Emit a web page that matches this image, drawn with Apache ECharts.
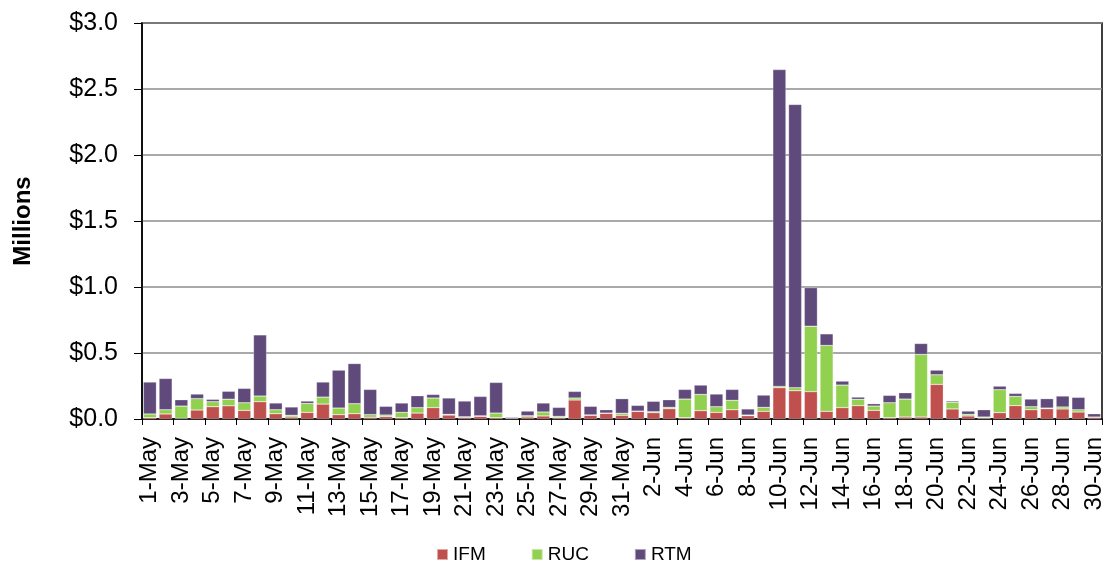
<!DOCTYPE html>
<html><head><meta charset="utf-8">
<script src="https://cdn.jsdelivr.net/npm/echarts@6/dist/echarts.min.js"></script>
<style>html,body{margin:0;padding:0;background:#fff}#c{width:1111px;height:561px}</style>
</head><body><div id="c"></div>
<script>
const categories = ["1-May","2-May","3-May","4-May","5-May","6-May","7-May","8-May","9-May","10-May","11-May","12-May","13-May","14-May","15-May","16-May","17-May","18-May","19-May","20-May","21-May","22-May","23-May","24-May","25-May","26-May","27-May","28-May","29-May","30-May","31-May","1-Jun","2-Jun","3-Jun","4-Jun","5-Jun","6-Jun","7-Jun","8-Jun","9-Jun","10-Jun","11-Jun","12-Jun","13-Jun","14-Jun","15-Jun","16-Jun","17-Jun","18-Jun","19-Jun","20-Jun","21-Jun","22-Jun","23-Jun","24-Jun","25-Jun","26-Jun","27-Jun","28-Jun","29-Jun","30-Jun"];
const ifm = [0.010,0.038,0.005,0.068,0.093,0.100,0.065,0.131,0.040,0.015,0.050,0.113,0.033,0.040,0.013,0.018,0.010,0.045,0.086,0.030,0.012,0.020,0.010,0.006,0.015,0.023,0.010,0.144,0.028,0.043,0.028,0.058,0.048,0.078,0.010,0.063,0.050,0.070,0.025,0.058,0.237,0.214,0.207,0.058,0.086,0.101,0.065,0.010,0.015,0.015,0.262,0.076,0.023,0.008,0.048,0.101,0.070,0.078,0.076,0.053,0.013];
const ruc = [0.028,0.032,0.093,0.086,0.038,0.050,0.058,0.043,0.030,0.013,0.068,0.053,0.050,0.076,0.020,0.012,0.040,0.041,0.073,0.005,0.005,0.004,0.035,0.002,0.010,0.030,0.010,0.015,0.003,0.002,0.015,0.002,0.007,0.010,0.141,0.123,0.043,0.071,0.005,0.030,0.010,0.023,0.496,0.499,0.171,0.048,0.033,0.113,0.136,0.474,0.073,0.050,0.012,0.007,0.174,0.070,0.023,0.005,0.015,0.017,0.002];
const rtm = [0.242,0.237,0.048,0.035,0.018,0.060,0.109,0.463,0.051,0.063,0.018,0.114,0.287,0.304,0.191,0.066,0.071,0.090,0.027,0.124,0.119,0.147,0.232,0.007,0.035,0.068,0.068,0.050,0.065,0.025,0.111,0.043,0.079,0.058,0.073,0.071,0.096,0.083,0.046,0.093,2.400,2.146,0.292,0.088,0.030,0.017,0.018,0.056,0.048,0.083,0.035,0.010,0.025,0.055,0.027,0.023,0.058,0.071,0.083,0.094,0.025];
const yTicks = [0, 0.5, 1.0, 1.5, 2.0, 2.5, 3.0];

const chart = echarts.init(document.getElementById('c'), null, {renderer:'canvas'});
const font = 'Arial, "Liberation Sans", sans-serif';
const mk = (name, data, color) => ({
  name, type:'bar', stack:'t', data, barCategoryGap:'17%',
  itemStyle:{color, borderColor:'rgba(255,255,255,0.5)', borderWidth:0.5},
  emphasis:{disabled:true}
});
chart.setOption({
  animation:false,
  grid:{left:142, right:9, top:23, bottom:142, show:true, borderColor:'#000', borderWidth:1.5},
  legend:{
    top:540, left:431, itemWidth:11, itemHeight:11, itemGap:45, icon:'rect',
    textStyle:{fontFamily:font, fontSize:19, color:'#000'},
    data:['IFM','RUC','RTM']
  },
  xAxis:{
    type:'category', data:categories, boundaryGap:true,
    axisLine:{lineStyle:{color:'#000', width:1.5}},
    axisTick:{show:true, interval:1, length:6, lineStyle:{color:'#000'}},
    axisLabel:{interval:1, rotate:90, fontFamily:font, fontSize:24, color:'#000', margin:18}
  },
  yAxis:{
    type:'value', min:0, max:3, interval:0.5,
    name:'Millions', nameLocation:'middle', nameGap:107, nameRotate:90,
    nameTextStyle:{fontFamily:font, fontSize:24, fontWeight:'bold', color:'#000'},
    axisLine:{show:true, lineStyle:{color:'#000', width:1.5}},
    axisTick:{show:true, length:8, lineStyle:{color:'#000'}},
    splitLine:{lineStyle:{color:'#8c8c8c', width:1.5}},
    axisLabel:{fontFamily:font, fontSize:25, color:'#000', margin:24,
      formatter:v => yTicks.includes(v) ? '$' + v.toFixed(1) : ''}
  },
  series:[mk('IFM', ifm, '#C0504D'), mk('RUC', ruc, '#92D050'), mk('RTM', rtm, '#604A7B')]
});
</script></body></html>
